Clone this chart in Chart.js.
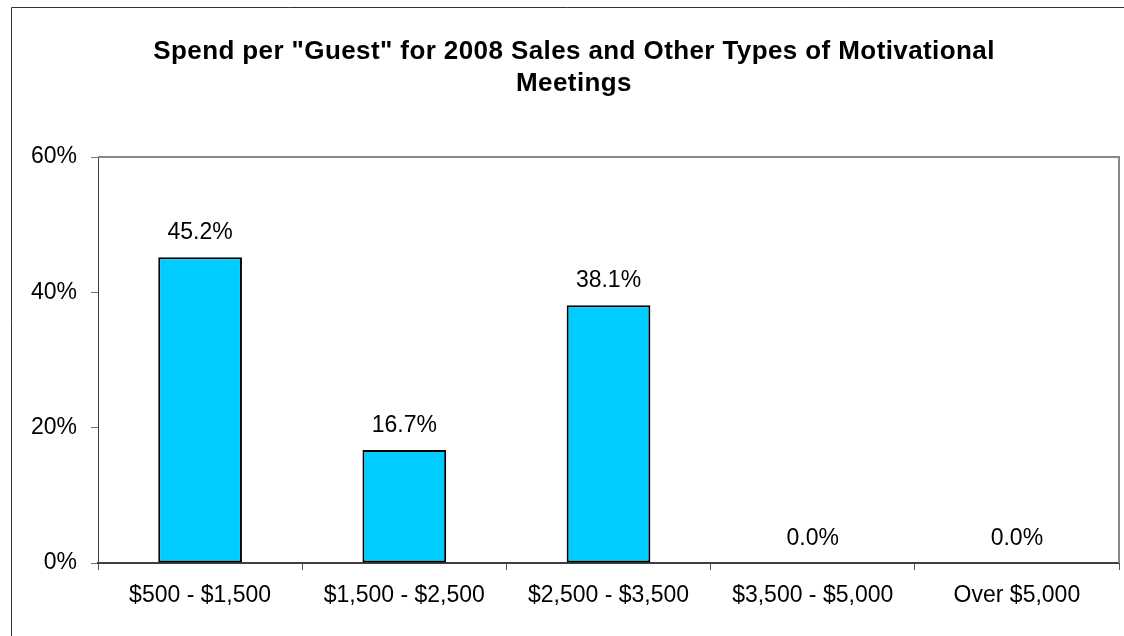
<!DOCTYPE html>
<html>
<head>
<meta charset="utf-8">
<title>Spend per Guest</title>
<script src="https://cdn.jsdelivr.net/npm/chart.js@4.4.1/dist/chart.umd.min.js"></script>
<style>
    html, body { margin: 0; padding: 0; background: #fff; }
    #wrap { width: 1124px; height: 636px; }
</style>
</head>
<body>
<div id="wrap"><canvas id="chart" width="1124" height="636"></canvas></div>
<script>
const categories = ['$500 - $1,500', '$1,500 - $2,500', '$2,500 - $3,500', '$3,500 - $5,000', 'Over $5,000'];
const shares = [45.2, 16.7, 38.1, 0.0, 0.0];
const yTicks = [0, 20, 40, 60];
const titleLines = ['Spend per "Guest" for 2008 Sales and Other Types of Motivational', 'Meetings'];

const FONT = '"Liberation Sans", Arial, sans-serif';

// outer frame, title, and the gray top/right edges of the plot box
const frame = {
    id: 'frame',
    beforeDraw(chart) {
        const { ctx, width, height } = chart;
        ctx.save();
        ctx.fillStyle = '#fff';
        ctx.fillRect(0, 0, width, height);
        ctx.strokeStyle = '#333';
        ctx.lineWidth = 1;
        ctx.beginPath();
        ctx.moveTo(11.5, height);
        ctx.lineTo(11.5, 7.5);
        ctx.lineTo(width, 7.5);
        ctx.stroke();

        ctx.font = 'bold 26px ' + FONT;
        ctx.letterSpacing = '0.4px';
        ctx.fillStyle = '#000';
        ctx.textAlign = 'center';
        ctx.textBaseline = 'alphabetic';
        titleLines.forEach((line, i) => {
            ctx.fillText(line, 574, 59 + i * 32);
        });
        ctx.restore();
    },
    afterDraw(chart) {
        const { ctx, chartArea: a } = chart;
        ctx.save();
        ctx.strokeStyle = '#888';
        ctx.lineWidth = 2;
        ctx.beginPath();
        ctx.moveTo(a.left, a.top);
        ctx.lineTo(a.right, a.top);
        ctx.lineTo(a.right, a.bottom);
        ctx.stroke();
        ctx.restore();
    },
};

// value labels above each bar
const valueLabels = {
    id: 'valueLabels',
    afterDatasetsDraw(chart) {
        const { ctx } = chart;
        const meta = chart.getDatasetMeta(0);
        ctx.save();
        ctx.font = '23px ' + FONT;
        ctx.fillStyle = '#000';
        ctx.textAlign = 'center';
        ctx.textBaseline = 'alphabetic';
        meta.data.forEach((bar, i) => {
            ctx.fillText(shares[i].toFixed(1) + '%', bar.x, bar.y - 18);
        });
        ctx.restore();
    },
};

new Chart(document.getElementById('chart'), {
    type: 'bar',
    data: {
        labels: categories,
        datasets: [{
            data: shares,
            backgroundColor: '#00CCFF',
            borderColor: '#000',
            borderWidth: 2,
            borderSkipped: false,
            barPercentage: 0.41,
            categoryPercentage: 1,
        }],
    },
    options: {
        responsive: false,
        devicePixelRatio: 1,
        animation: false,
        layout: { padding: { left: 29, right: 5, top: 157, bottom: 0 } },
        plugins: {
            legend: { display: false },
            tooltip: { enabled: false },
            title: { display: false },
        },
        scales: {
            x: {
                grid: {
                    drawOnChartArea: false,
                    drawTicks: true,
                    tickLength: 7,
                    tickColor: '#555',
                    offset: true,
                },
                border: { color: '#404040', width: 2 },
                ticks: {
                    color: '#000',
                    font: { family: FONT, size: 23 },
                    padding: 12,
                    maxRotation: 0,
                    autoSkip: false,
                },
                afterFit(scale) { scale.height = 73; },
            },
            y: {
                min: 0,
                max: 60,
                afterBuildTicks(scale) {
                    scale.ticks = yTicks.map((v) => ({ value: v }));
                },
                grid: {
                    drawOnChartArea: false,
                    drawTicks: true,
                    tickLength: 7,
                    tickColor: '#777',
                },
                border: { color: '#404040', width: 1 },
                ticks: {
                    color: '#000',
                    font: { family: FONT, size: 23 },
                    padding: 14,
                    callback: (v) => v + '%',
                },
                afterFit(scale) { scale.width = 69; },
            },
        },
    },
    plugins: [frame, valueLabels],
});
</script>
</body>
</html>
